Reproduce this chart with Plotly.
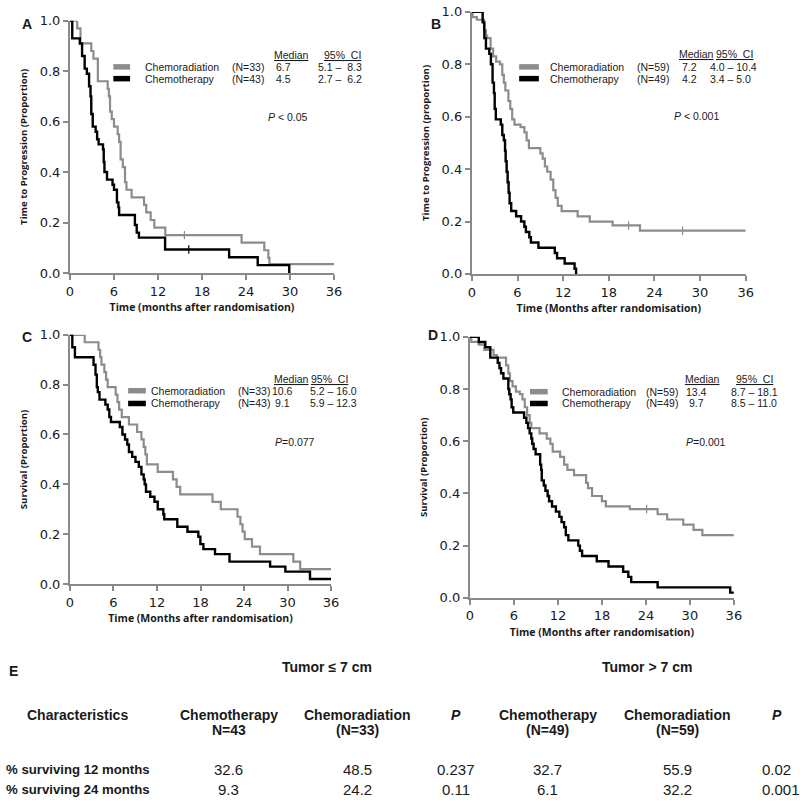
import plotly.graph_objects as go

W, H = 800, 806

# ---------------- Data ----------------
# Panel A: time to progression, tumor <= 7 cm
A_crt_t = [0.98, 1.43, 2.9, 3.2, 3.8, 5.14, 5.3, 5.46, 5.7, 6.0, 6.5, 6.7, 6.9, 7.2, 7.5, 7.7, 8.4, 10.1, 10.4, 11.0, 11.5, 13.0, 23.4, 26.5, 27.05, 27.2]
A_crt_s = [0.97, 0.91, 0.88, 0.85, 0.76, 0.73, 0.70, 0.64, 0.61, 0.58, 0.55, 0.52, 0.45, 0.42, 0.36, 0.33, 0.30, 0.27, 0.24, 0.21, 0.18, 0.15, 0.12, 0.09, 0.06, 0.035]
A_crt_end = 36
A_ct_t = [0.31, 1.34, 1.65, 2.0, 2.3, 2.6, 2.8, 2.9, 3.1, 3.5, 3.7, 3.9, 4.5, 4.6, 4.7, 5.05, 5.8, 6.0, 6.4, 6.6, 6.7, 8.85, 9.1, 9.4, 12.97, 21.7, 25.6, 29.9]
A_ct_s = [0.93, 0.91, 0.86, 0.81, 0.79, 0.74, 0.70, 0.63, 0.58, 0.56, 0.53, 0.51, 0.49, 0.44, 0.40, 0.37, 0.35, 0.33, 0.28, 0.26, 0.23, 0.19, 0.16, 0.14, 0.093, 0.062, 0.031, 0.0]
A_ct_end = 29.9
A_cens_crt_t = [15.6]
A_cens_crt_s = [0.15]
A_cens_ct_t = [16.2]
A_cens_ct_s = [0.093]

# Panel B: time to progression, tumor > 7 cm
B_crt_t = [0.1, 0.65, 1.6, 1.85, 2.0, 2.46, 2.8, 3.2, 3.7, 4.0, 4.2, 4.4, 4.8, 5.05, 5.3, 5.6, 6.4, 6.9, 7.2, 7.5, 9.0, 9.3, 9.6, 9.9, 10.35, 10.7, 11.0, 11.3, 11.8, 13.9, 15.5, 18.5, 22.1]
B_crt_s = [0.98, 0.97, 0.93, 0.91, 0.90, 0.86, 0.83, 0.81, 0.80, 0.76, 0.73, 0.70, 0.66, 0.63, 0.59, 0.57, 0.56, 0.54, 0.51, 0.48, 0.46, 0.44, 0.41, 0.39, 0.36, 0.32, 0.29, 0.26, 0.24, 0.22, 0.20, 0.185, 0.165]
B_crt_end = 36
B_ct_t = [1.42, 1.64, 1.85, 2.29, 2.5, 2.72, 2.9, 3.0, 3.15, 3.8, 4.0, 4.2, 4.36, 4.44, 4.57, 4.7, 4.83, 4.96, 5.17, 5.82, 6.47, 6.9, 7.1, 7.55, 7.76, 8.75, 10.9, 11.2, 12.2, 13.5, 13.7]
B_ct_s = [0.96, 0.90, 0.86, 0.84, 0.80, 0.73, 0.69, 0.63, 0.59, 0.57, 0.53, 0.51, 0.47, 0.43, 0.39, 0.35, 0.31, 0.27, 0.24, 0.22, 0.20, 0.18, 0.16, 0.14, 0.12, 0.10, 0.08, 0.06, 0.04, 0.02, 0.0]
B_ct_end = 13.7
B_cens_crt_t = [20.6, 27.7]
B_cens_crt_s = [0.185, 0.165]

# Panel C: survival, tumor <= 7 cm
C_crt_t = [2.03, 3.93, 4.16, 4.34, 4.74, 4.97, 5.2, 6.3, 6.55, 6.78, 7.14, 8.13, 9.26, 9.85, 10.16, 10.39, 10.6, 12.1, 14.2, 14.7, 15.2, 19.65, 20.8, 23.1, 23.5, 23.8, 24.1, 25.1, 26.2, 30.8, 31.75]
C_crt_s = [0.97, 0.94, 0.91, 0.88, 0.85, 0.82, 0.79, 0.76, 0.73, 0.70, 0.67, 0.64, 0.61, 0.58, 0.55, 0.52, 0.48, 0.45, 0.42, 0.39, 0.36, 0.33, 0.30, 0.27, 0.24, 0.21, 0.18, 0.15, 0.12, 0.09, 0.06]
C_crt_end = 36
C_ct_t = [0.32, 0.68, 3.25, 3.52, 3.7, 3.84, 4.07, 4.88, 5.2, 5.42, 5.65, 6.87, 7.23, 7.59, 7.9, 8.13, 8.58, 9.03, 9.49, 9.85, 10.16, 10.3, 10.48, 11.07, 11.65, 12.1, 12.87, 13.0, 14.8, 16.2, 17.7, 17.98, 18.4, 20.0, 22.0, 27.6, 29.7, 33.1]
C_ct_s = [0.95, 0.91, 0.88, 0.84, 0.79, 0.77, 0.74, 0.72, 0.70, 0.67, 0.65, 0.63, 0.60, 0.58, 0.56, 0.53, 0.51, 0.49, 0.47, 0.44, 0.42, 0.40, 0.37, 0.35, 0.33, 0.30, 0.28, 0.26, 0.23, 0.21, 0.19, 0.16, 0.14, 0.12, 0.09, 0.07, 0.05, 0.02]
C_ct_end = 36

# Panel D: survival, tumor > 7 cm
D_crt_t = [0.18, 1.2, 1.97, 3.22, 3.67, 4.93, 5.24, 5.46, 5.82, 6.27, 6.8, 7.17, 7.48, 7.8, 8.15, 8.37, 9.5, 10.48, 10.97, 11.29, 12.3, 12.85, 13.3, 14.2, 15.85, 16.1, 16.66, 18.0, 18.54, 21.8, 25.6, 26.9, 29.1, 30.5, 31.7]
D_crt_s = [0.98, 0.97, 0.95, 0.93, 0.92, 0.89, 0.86, 0.83, 0.81, 0.79, 0.78, 0.76, 0.73, 0.70, 0.67, 0.65, 0.63, 0.61, 0.59, 0.56, 0.54, 0.51, 0.49, 0.47, 0.44, 0.42, 0.39, 0.37, 0.35, 0.34, 0.32, 0.30, 0.28, 0.26, 0.24]
D_crt_end = 36
D_ct_t = [1.21, 2.1, 2.78, 3.8, 4.03, 4.25, 4.57, 5.24, 5.37, 5.55, 5.69, 5.91, 7.39, 7.7, 7.93, 8.15, 8.37, 8.5, 8.69, 8.96, 9.58, 9.72, 9.8, 10.08, 10.3, 10.6, 10.8, 11.2, 11.73, 12.2, 12.5, 12.85, 13.08, 13.43, 14.78, 15.0, 15.3, 17.3, 18.9, 20.9, 21.6, 22.0, 25.6, 35.5]
D_ct_s = [0.98, 0.96, 0.92, 0.90, 0.88, 0.86, 0.84, 0.80, 0.78, 0.76, 0.73, 0.71, 0.69, 0.67, 0.65, 0.63, 0.61, 0.59, 0.57, 0.55, 0.51, 0.49, 0.45, 0.43, 0.41, 0.39, 0.37, 0.35, 0.33, 0.31, 0.29, 0.27, 0.24, 0.22, 0.20, 0.18, 0.16, 0.14, 0.12, 0.10, 0.08, 0.06, 0.04, 0.02]
D_ct_end = 36
D_cens_crt_t = [24.1]
D_cens_crt_s = [0.34]

# Legend statistics per panel: [chemoradiation, chemotherapy]
panel_letters = ["A", "B", "C", "D"]
group_names = ["Chemoradiation", "Chemotherapy"]
N_A = ["(N=33)", "(N=43)"]; med_A = ["6.7", "4.5"]; ci_A = ["5.1 –  8.3", "2.7 –  6.2"]; p_A = "<i>P</i> < 0.05"
N_B = ["(N=59)", "(N=49)"]; med_B = ["7.2", "4.2"]; ci_B = ["4.0 – 10.4", "3.4 – 5.0"]; p_B = "<i>P</i> < 0.001"
N_C = ["(N=33)", "(N=43)"]; med_C = ["10.6", " 9.1"]; ci_C = ["5.2 – 16.0", "5.9 – 12.3"]; p_C = "<i>P</i>=0.077"
N_D = ["(N=59)", "(N=49)"]; med_D = ["13.4", " 9.7"]; ci_D = ["8.7 – 18.1", "8.5 – 11.0"]; p_D = "<i>P</i>=0.001"

y_titles = ["Time to Progression (Proportion)", "Time to Progression (proportion)",
            "Survival (Proportion)", "Survival (Proportion)"]
x_titles = ["Time (months after randomisation)", "Time (Months after randomisation)",
            "Time (Months after randomisation)", "Time (Months after randomisation)"]
x_ticks = [0, 6, 12, 18, 24, 30, 36]
y_ticks = [0.0, 0.2, 0.4, 0.6, 0.8, 1.0]

# Table E
tumor_groups = ["Tumor ≤ 7 cm", "Tumor > 7 cm"]
table_headers = ["Chemotherapy<br>N=43", "Chemoradiation<br>(N=33)", "<i>P</i>",
                 "Chemotherapy<br>(N=49)", "Chemoradiation<br>(N=59)", "<i>P</i>"]
row_labels = ["% surviving 12 months", "% surviving 24 months"]
row_12 = ["32.6", "48.5", "0.237", "32.7", "55.9", "0.02"]
row_24 = ["9.3", "24.2", "0.11", "6.1", "32.2", "0.001"]

# ---------------- Styling / layout ----------------
GRAY = "#8c8c8c"
BLACK = "#000000"
AXC = "#8a8a8a"
TXT = "#1a1a1a"
SANS = "Liberation Sans, Arial, sans-serif"
TICKF = "DejaVu Sans, Verdana, sans-serif"
TITLEF = "Open Sans, DejaVu Sans, sans-serif"

def px(x):
    return x / W

def py(y):
    return 1 - y / H

# plot rectangles in pixels: x0, x1, ytop, ybottom
rects = [(67, 335, 14, 271), (475, 753, 5, 272), (67, 332, 334, 588), (473, 741, 336, 602)]

curves = [
    (A_crt_t, A_crt_s, A_crt_end, A_ct_t, A_ct_s, A_ct_end),
    (B_crt_t, B_crt_s, B_crt_end, B_ct_t, B_ct_s, B_ct_end),
    (C_crt_t, C_crt_s, C_crt_end, C_ct_t, C_ct_s, C_ct_end),
    (D_crt_t, D_crt_s, D_crt_end, D_ct_t, D_ct_s, D_ct_end),
]
censors = [
    [(A_cens_crt_t, A_cens_crt_s, GRAY), (A_cens_ct_t, A_cens_ct_s, BLACK)],
    [(B_cens_crt_t, B_cens_crt_s, GRAY)],
    [],
    [(D_cens_crt_t, D_cens_crt_s, GRAY)],
]

def step(t, s, end):
    x = [0] + list(t) + [end]
    y = [1.0] + list(s) + [s[-1]]
    return x, y

fig = go.Figure()
layout = dict(width=W, height=H, margin=dict(l=0, r=0, t=0, b=0),
              paper_bgcolor="white", plot_bgcolor="white", showlegend=False)

for i, (x0, x1, yt, yb) in enumerate(rects):
    k = "" if i == 0 else str(i + 1)
    xa, ya = "x" + k, "y" + k
    ct, cs, ce, kt, ks, ke = curves[i]
    gx, gy = step(ct, cs, ce)
    bx, by = step(kt, ks, ke)
    fig.add_trace(go.Scatter(x=gx, y=gy, mode="lines", line=dict(color=GRAY, width=2.2, shape="hv"),
                             name=group_names[0], xaxis=xa, yaxis=ya, hoverinfo="skip"))
    fig.add_trace(go.Scatter(x=bx, y=by, mode="lines", line=dict(color=BLACK, width=2.4, shape="hv"),
                             name=group_names[1], xaxis=xa, yaxis=ya, hoverinfo="skip"))
    for (tt, ss, col) in censors[i]:
        fig.add_trace(go.Scatter(x=tt, y=ss, mode="markers",
                                 marker=dict(symbol="line-ns", size=6, line=dict(color=col, width=1.2)),
                                 xaxis=xa, yaxis=ya, hoverinfo="skip"))
    common = dict(showline=True, linecolor=AXC, linewidth=2, ticks="outside", tickcolor=AXC,
                  tickwidth=1.5, ticklen=5, showgrid=False, zeroline=False,
                  tickfont=dict(family=TICKF, size=13, color=TXT))
    layout["xaxis" + k] = dict(common, domain=[px(x0), px(x1)], anchor=ya, range=[0, 36],
                               tickvals=x_ticks,
                               title=dict(text=x_titles[i], standoff=6,
                                          font=dict(family=TITLEF, size=10.5, weight="bold", color=TXT)))
    layout["yaxis" + k] = dict(common, domain=[py(yb), py(yt)], anchor=xa, range=[0, 1.0],
                               tickvals=y_ticks, tickformat=".1f",
                               title=dict(text=y_titles[i], standoff=10,
                                          font=dict(family=TITLEF, size=9.6, weight="bold", color=TXT)))

annotations = []
shapes = []

def text(x, y, s, size=10.5, anchor="left", bold=False, family=SANS):
    annotations.append(dict(xref="paper", yref="paper", x=px(x), y=py(y), text=s, showarrow=False,
                            xanchor=anchor, yanchor="middle",
                            font=dict(family=family, size=size, color=TXT, weight="bold" if bold else "normal")))

# Panel letters
for (lx, ly), L in zip([(16, 17), (431, 17), (16, 336), (428, 334)], panel_letters):
    text(lx, ly, L, size=14, anchor="left", bold=True)

# Legends (layout positions in px)
leg_layout = [
    dict(sw=(111, 128), name=141, n=229, med=(284, "center"), ci=317, hy=49, hmed=272, hci=323, r1=61, r2=73, p=(266, 112)),
    dict(sw=(523, 543), name=552, n=641, med=(696, "center"), ci=715, hy=48, hmed=683, hci=721, r1=61, r2=73, p=(678, 111)),
    dict(sw=(126, 144), name=147, n=236, med=(270, "left"), ci=309, hy=379, hmed=272, hci=310, r1=391, r2=404, p=(273, 443)),
    dict(sw=(534, 552), name=564, n=650, med=(690, "left"), ci=736, hy=379, hmed=689, hci=741, r1=392, r2=404, p=(690, 443)),
]
stats = [(N_A, med_A, ci_A, p_A), (N_B, med_B, ci_B, p_B), (N_C, med_C, ci_C, p_C), (N_D, med_D, ci_D, p_D)]
for lg, (Ns, meds, cis, pv) in zip(leg_layout, stats):
    text(lg["hmed"], lg["hy"], "<u>Median</u>")
    text(lg["hci"], lg["hy"], "<u>95%  CI</u>")
    for j, (ry, col) in enumerate([(lg["r1"], GRAY), (lg["r2"], BLACK)]):
        shapes.append(dict(type="rect", xref="paper", yref="paper",
                           x0=px(lg["sw"][0]), x1=px(lg["sw"][1]), y0=py(ry + 2.8), y1=py(ry - 2.8),
                           fillcolor=col, line=dict(width=0)))
        text(lg["name"], ry, group_names[j])
        text(lg["n"], ry, Ns[j])
        text(lg["med"][0], ry, meds[j], anchor=lg["med"][1])
        text(lg["ci"], ry, cis[j])
    text(lg["p"][0], lg["p"][1], pv)

# Table E
TB = 14      # bold header size
TN = 15      # number size
text(3, 677, "E", size=14, bold=True)
text(328, 673, tumor_groups[0], size=TB, anchor="center", bold=True)
text(653, 673, tumor_groups[1], size=TB, anchor="center", bold=True)
text(75, 721, "Characteristics", size=TB, anchor="center", bold=True)
col_x = [228, 359, 459, 552, 684, 785]
for cx, h in zip(col_x, table_headers):
    parts = h.split("<br>")
    text(cx, 721, parts[0], size=TB, anchor="center", bold=True)
    if len(parts) > 1:
        text(cx, 737, parts[1], size=TB, anchor="center", bold=True)
for ry, lab, vals in [(777, row_labels[0], row_12), (797, row_labels[1], row_24)]:
    text(0, ry, lab, size=13.2, anchor="left", bold=True)
    for j, (cx, v) in enumerate(zip(col_x, vals)):
        if j == 5:
            text(768, ry, v, size=TN, anchor="left")
        else:
            text(cx, ry, v, size=TN, anchor="center")

layout["annotations"] = annotations
layout["shapes"] = shapes
fig.update_layout(**layout)
fig.write_html("out.html", config={"displayModeBar": False},
               post_script="document.body.style.margin='0';document.body.style.overflow='hidden';")
